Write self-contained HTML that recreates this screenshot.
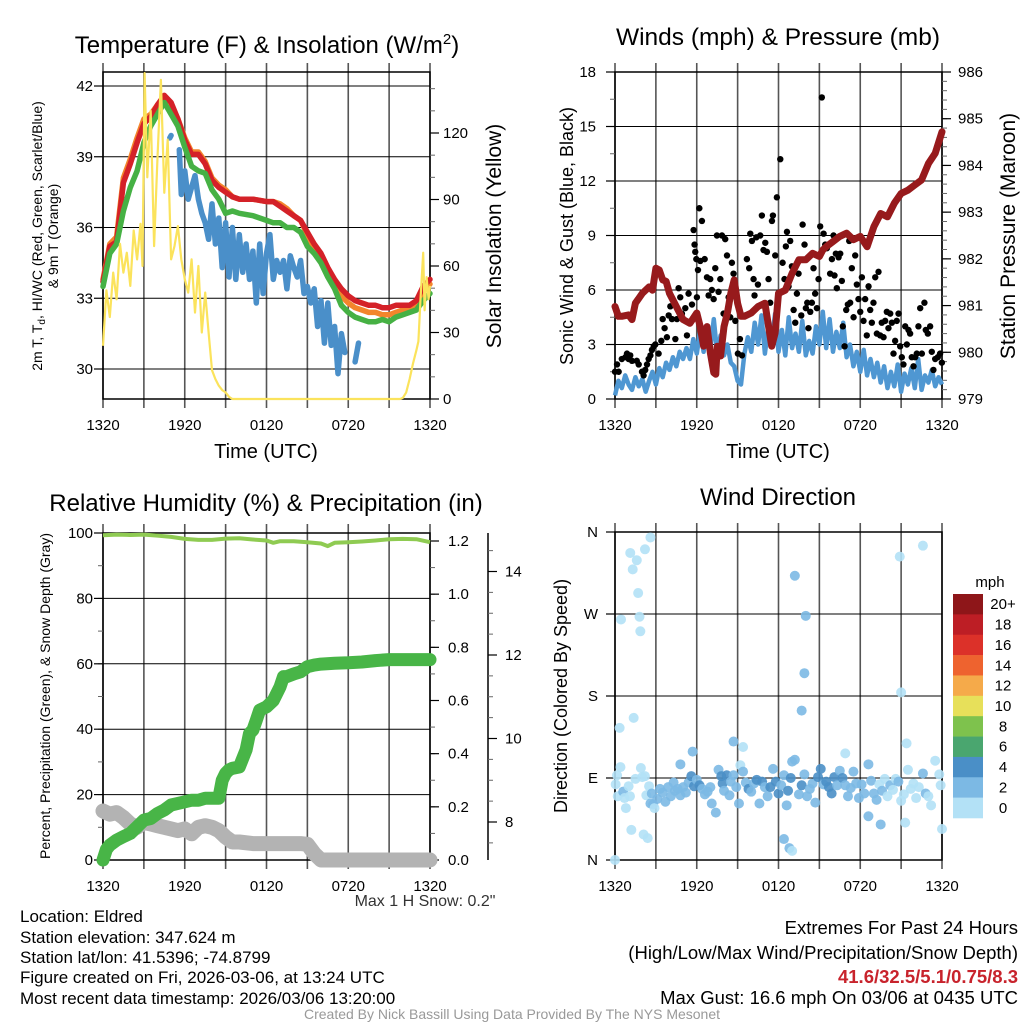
<!DOCTYPE html>
<html><head><meta charset="utf-8"><style>
html,body{margin:0;padding:0;background:#fff;}
svg{display:block;font-family:"Liberation Sans",Arial,sans-serif;}
</style></head><body>
<svg id="s" width="1024" height="1024" viewBox="0 0 1024 1024" xmlns="http://www.w3.org/2000/svg">
<rect width="1024" height="1024" fill="#fff"/>
<g id="g1"></g>
<g id="g2"></g>
<g id="g3"></g>
<g id="g4"></g>
<g id="txt">
<text x="267" y="53" font-size="24" text-anchor="middle">Temperature (F) &amp; Insolation (W/m<tspan dy="-9" font-size="15">2</tspan><tspan dy="9">)</tspan></text>
<text x="778" y="45" font-size="24.5" text-anchor="middle">Winds (mph) &amp; Pressure (mb)</text>
<text x="266" y="511" font-size="24" text-anchor="middle">Relative Humidity (%) &amp; Precipitation (in)</text>
<text x="778" y="505" font-size="24" text-anchor="middle">Wind Direction</text>
<text x="266" y="458" font-size="20" text-anchor="middle">Time (UTC)</text>
<text x="778" y="458" font-size="20" text-anchor="middle">Time (UTC)</text>
<text transform="translate(42,236) rotate(-90)" font-size="14" text-anchor="middle">2m T, T<tspan dy="3" font-size="10">d</tspan><tspan dy="-3">, HI/WC (Red, Green, Scarlet/Blue)</tspan></text>
<text transform="translate(58,236) rotate(-90)" font-size="14" text-anchor="middle">&amp; 9m T (Orange)</text>
<text transform="translate(501,236) rotate(-90)" font-size="21" text-anchor="middle">Solar Insolation (Yellow)</text>
<text transform="translate(573,236) rotate(-90)" font-size="18" text-anchor="middle">Sonic Wind &amp; Gust (Blue, Black)</text>
<text transform="translate(1015,236) rotate(-90)" font-size="21" text-anchor="middle">Station Pressure (Maroon)</text>
<text transform="translate(50,696) rotate(-90)" font-size="14" text-anchor="middle">Percent, Precipitation (Green), &amp; Snow Depth (Gray)</text>
<text transform="translate(567,696) rotate(-90)" font-size="18" text-anchor="middle">Direction (Colored By Speed)</text>
<text x="425" y="906" font-size="16" text-anchor="middle" fill="#333">Max 1 H Snow: 0.2"</text>
<g font-size="17" fill="#000">
<text x="20" y="922">Location: Eldred</text>
<text x="20" y="943">Station elevation: 347.624 m</text>
<text x="20" y="963">Station lat/lon: 41.5396; -74.8799</text>
<text x="20" y="983">Figure created on Fri, 2026-03-06, at 13:24 UTC</text>
<text x="20" y="1004">Most recent data timestamp: 2026/03/06 13:20:00</text>
</g>
<g font-size="18.5" fill="#000">
<text x="1018" y="934" text-anchor="end">Extremes For Past 24 Hours</text>
<text x="1018" y="959" text-anchor="end">(High/Low/Max Wind/Precipitation/Snow Depth)</text>
<text x="1018" y="983" text-anchor="end" fill="#c8232c" font-weight="bold">41.6/32.5/5.1/0.75/8.3</text>
<text x="1018" y="1004" text-anchor="end">Max Gust: 16.6 mph On 03/06 at 0435 UTC</text>
</g>
<text x="512" y="1019" font-size="14" fill="#999" text-anchor="middle">Created By Nick Bassill Using Data Provided By The NYS Mesonet</text>
</g>
</svg>
<script>
// ---------- data ----------
const timeLabels = ["1320","1920","0120","0720","1320"];
const tempHours = [0,0.5,1,1.5,2,2.5,3,3.5,4,4.5,5,5.5,6,6.5,7,7.5,8,8.5,9,9.5,10,11,12,12.5,13,13.5,14,14.5,15,15.5,16,16.5,17,17.5,18,18.5,19,19.5,20,20.5,21,21.5,22,22.5,23,23.5,24];
const redTemp = [33.7,35.2,35.4,37.9,38.7,39.6,40.4,40.7,41.2,41.6,41.3,40.6,39.7,39.1,39.1,38.7,38.0,37.7,37.5,37.3,37.2,37.2,37.1,37.1,36.9,36.7,36.5,36.3,35.8,35.3,34.9,34.3,33.8,33.4,33.1,32.9,32.8,32.7,32.7,32.6,32.6,32.7,32.7,32.7,32.9,33.5,33.8];
const orangeTemp = [33.8,35.3,35.6,38.1,38.9,39.8,40.6,40.8,41.2,41.5,41.2,40.6,39.8,39.2,39.2,38.8,38.1,37.8,37.6,37.3,37.2,37.2,37.1,37.1,37.0,36.8,36.5,36.3,35.7,35.1,34.7,34.1,33.6,33.1,32.8,32.6,32.5,32.4,32.4,32.3,32.3,32.4,32.5,32.5,32.7,33.3,33.6];
const greenTemp = [33.5,34.9,35.3,36.7,37.7,38.4,39.6,40.3,40.8,41.3,40.8,40.3,39.4,38.6,38.4,38.3,37.6,37.2,36.6,36.7,36.6,36.5,36.3,36.2,36.2,36.0,36.0,35.8,35.2,34.9,34.5,33.9,33.4,32.7,32.4,32.2,32.1,32.0,32.0,32.1,32.0,32.2,32.3,32.4,32.5,32.9,33.2];
const dewHours = [4.9,5.0,null,5.6,5.75,6,6.25,6.5,6.75,7,7.25,7.5,7.75,8,8.25,8.5,8.75,9,9.25,9.5,9.75,10,10.25,10.5,10.75,11,11.25,11.5,11.75,12,12.25,12.5,12.75,13,13.25,13.5,13.75,14,14.25,14.5,14.75,15,15.25,15.5,15.75,16,16.25,16.5,16.75,17,17.25,17.5,17.75,null,18.5,18.75];
const dewTemp = [39.8,39.9,null,39.3,37.4,38.4,37.2,37.7,38.2,37.2,36.6,36.2,35.5,37.0,35.3,36.4,34.3,36.2,33.9,36.0,33.8,35.7,34.1,35.3,33.8,35.0,32.8,35.3,33.2,34.9,35.7,33.8,34.6,34.1,34.6,33.4,34.8,34.3,33.9,34.6,33.2,33.5,32.8,33.4,31.8,32.9,31.1,32.8,31.0,31.8,29.8,31.5,30.7,null,30.3,31.1];
const solarHours = [0,0.25,0.5,0.75,1,1.25,1.5,1.75,2,2.25,2.5,2.75,2.9,3.05,3.25,3.5,3.75,4,4.25,4.5,4.75,5,5.25,5.5,5.75,6,6.25,6.5,6.75,7,7.25,7.5,7.75,8,8.25,8.5,8.75,9,9.25,9.5,21.8,22,22.25,22.5,22.75,23,23.15,23.3,23.5,23.6,23.75,23.9,24];
const solarValues = [24,49,37,57,45,70,57,66,51,76,63,79,60,147,100,130,69,109,144,93,117,63,69,78,63,54,48,63,39,60,30,48,30,13,9,6,4,3,1,0,0,0.5,3,9,16,22,26,45,66,40,55,45,51];
const windHours = Array.from({length:97},(_,i)=>i*0.25);
const windSpeed = [0.2,1.0,0.6,1.3,0.8,0.5,1.2,0.7,1.1,0.4,1.0, 1.5,0.8,1.7,1.2,2.0,1.6,2.3,1.8,2.6,2.2, 2.8,2.2,3.3,2.5,3.8,2.6,4.0,2.8,4.4,2.5,3.5,2.4, 3.0,2.0,1.8,1.0,0.8,2.5, 3.4,2.6,4.2,3.0,4.6,2.5,4.0,3.2,4.7,2.6, 3.8,2.4,4.5,2.8,3.6,2.6,4.3,2.4,3.2,2.5,4.0,3.0, 4.8,2.8,4.4,2.6,3.7,2.8,4.2,2.3, 3.0,1.8,2.6,1.5,2.7,1.3,2.2,1.2, 2.0,0.9,1.8,0.6,1.5,0.7,1.9,0.4,1.4,0.8,1.7,0.6,2.2,0.5,1.3,0.9,1.6,0.7,1.2,0.8];
const gustHours = [0.0,0.15,0.27,0.5,0.76,0.88,1.0,1.12,1.25,1.6,1.74,1.98,2.1,2.22,2.35,2.47,2.6,2.71,2.84,2.96,3.2,3.4,3.5,3.64,3.81,3.94,4.06,4.18,4.43,4.55,4.67,4.79,4.91,5.16,5.28,5.4,5.65,5.77,5.84,5.89,5.97,6.01,6.09,6.19,6.26,6.38,6.58,6.75,6.87,6.99,7.11,7.24,7.36,7.48,7.6,7.73,7.85,7.97,8.09,8.22,8.34,8.46,8.58,8.7,8.83,9.02,9.17,9.32,9.56,9.68,9.85,9.93,10.05,10.17,10.24,10.37,10.49,10.66,10.78,10.9,11.03,11.15,11.27,11.39,11.52,11.59,11.76,11.88,12.0,12.13,12.3,12.44,12.54,12.62,12.74,12.86,12.98,13.11,13.23,13.35,13.47,13.67,13.77,13.91,14.01,14.11,14.2,14.33,14.45,14.57,14.69,14.82,14.94,15.06,15.18,15.31,15.43,15.55,15.79,15.92,16.04,16.11,16.21,16.28,16.41,16.53,16.65,16.72,16.85,16.97,17.09,17.19,17.26,17.38,17.51,17.63,17.75,17.87,18.0,18.12,18.24,18.36,18.48,18.61,18.73,18.85,18.97,19.1,19.22,19.34,19.46,19.58,19.71,19.83,19.95,20.07,20.2,20.32,20.44,20.56,20.68,20.81,20.93,21.05,21.17,21.3,21.42,21.54,21.66,21.78,21.91,22.03,22.15,22.27,22.4,22.52,22.71,22.81,22.96,23.13,23.25,23.37,23.5,23.69,23.86,23.99];
const gustSpeed = [1.5,1.9,1.5,2.2,2.3,2.5,2.2,2.4,2.1,2.1,1.9,1.5,1.3,1.6,1.9,2.2,2.4,2.7,2.9,3.0,2.5,3.2,4.4,3.9,3.4,4.6,5.1,4.4,3.3,4.4,6.1,5.6,4.7,5.0,3.5,5.8,5.2,9.3,8.5,8.1,7.7,5.6,7.1,10.5,7.6,9.8,7.7,6.7,5.7,6.6,6.0,5.5,7.2,9.0,5.9,6.6,9.0,4.7,8.8,7.9,5.6,4.5,7.5,6.9,4.3,2.5,3.3,2.4,4.6,7.7,7.2,9.1,8.7,6.6,5.7,8.9,6.3,9.0,10.1,8.2,8.6,8.1,6.6,5.3,9.8,10.1,7.9,11.1,5.7,13.2,7.5,6.6,8.4,9.2,6.2,8.7,7.3,4.9,4.2,5.8,6.9,4.6,9.6,8.5,5.0,5.3,3.9,4.8,5.3,7.2,5.8,5.0,6.6,9.5,16.6,9.1,8.5,8.3,6.9,7.7,9.0,6.8,8.0,6.1,7.8,8.0,6.5,4.0,2.9,4.9,5.2,8.7,5.3,7.2,4.5,7.9,6.3,5.5,4.8,6.7,4.3,5.5,3.5,6.2,4.9,4.2,5.3,6.7,3.6,7.0,3.5,4.2,3.4,4.3,4.8,3.9,4.7,4.2,2.5,3.2,4.3,4.7,2.9,2.3,1.9,4.0,3.0,3.8,3.6,2.3,1.8,2.3,2.5,4.0,5.0,2.5,5.3,3.8,3.6,4.0,2.6,1.6,2.2,2.3,2.5,2.0];
const presHours = [0,0.25,0.5,1,1.25,1.5,2,2.5,2.75,3,3.25,3.5,3.75,4,4.5,5,5.5,6,6.25,6.5,6.75,7,7.25,7.4,7.5,7.75,8,8.25,8.5,8.75,9,9.25,9.5,10,10.5,11,11.5,11.75,12,12.5,13,13.5,14,14.5,15,15.25,15.5,16,16.5,17,17.5,18,18.5,19,19.5,20,20.5,21,21.5,22,22.5,23,23.5,24];
const presValues = [980.98,980.77,980.77,980.8,980.7,981.05,981.26,981.4,981.33,981.8,981.76,981.55,981.52,981.26,980.98,980.7,980.62,980.84,980.55,980.13,980.55,979.98,979.56,979.53,980.13,979.92,980.55,980.84,981.26,981.55,981.05,980.77,980.77,980.84,980.98,981.05,980.13,980.41,981.26,981.33,981.69,981.98,981.98,982.12,982.05,982.19,982.26,982.37,982.48,982.55,982.41,982.48,982.26,982.69,982.97,982.9,983.19,983.4,983.47,983.58,983.69,984.04,984.26,984.72];
const rhHours = [0,1,2,3,4,5,6,7,8,9,10,11,12,12.5,13,14,15,16,16.5,17,18,19,20,21,22,23,24];
const rhValues = [99.3,99.5,99.4,99.5,99.2,98.8,98.2,97.9,97.9,98.3,98.4,98.0,97.7,97.0,97.5,97.5,97.2,96.8,96.0,97.0,97.2,97.4,97.7,98.1,98.2,98.1,97.2];
const precipHours = [0,0.25,0.5,1,1.5,2,2.5,3,3.5,4,4.5,5,5.5,6,6.5,7,7.5,8,8.5,8.75,9,9.25,9.5,10,10.5,10.75,11,11.25,11.5,12,12.5,13,13.25,13.5,14,14.5,15,15.5,16,17,18,19,20,21,22,24];
const precipValues = [0,0.04,0.056,0.075,0.088,0.1,0.125,0.15,0.156,0.175,0.188,0.207,0.213,0.219,0.225,0.225,0.232,0.232,0.232,0.3,0.326,0.339,0.345,0.35,0.414,0.476,0.489,0.526,0.564,0.576,0.6,0.652,0.69,0.69,0.7,0.708,0.727,0.733,0.737,0.74,0.742,0.745,0.75,0.754,0.754,0.754];
const snowHours = [0,0.5,1,1.5,2,2.5,3,3.5,4,4.5,5,5.5,6,6.5,7,7.5,8,8.5,9,9.5,10,11,12,13,14,14.5,15,15.5,16,17,20,24];
const snowValues = [15,14,14.5,13,11,10,11.5,11,10.5,10,9.5,9,9.5,8,10,10.5,10,9,7,5.5,5.5,5,5,5,5,5,4.8,2,0,0,0,0];
const speedBinLabels = ["20+","18","16","14","12","10","8","6","4","2","0"];
const speedBinColors = ["#8e1619","#bd1e25","#dc3129","#ee632f","#f5aa4a","#e7e05a","#7ec24d","#4aa66f","#4a8fc7","#7cb9e4","#b3e1f6"];
const dirHours = [0.05,0.15,0.2,0.4,0.6,0.7,0.8,1.0,1.1,1.5,1.9,2.0,2.2,2.3,2.5,2.6,2.7,2.8,2.9,3.1,3.3,3.5,3.7,3.9,4.1,4.3,4.4,4.6,4.8,5.0,5.2,5.4,5.6,5.8,6.0,6.2,6.4,6.6,6.8,7.0,7.1,7.4,7.6,7.8,7.9,8.0,8.2,8.4,8.5,8.7,8.9,9.1,9.2,9.4,9.6,9.8,10.0,10.2,10.4,10.6,10.8,11.0,11.2,11.4,11.6,11.8,12.0,12.2,12.4,12.6,12.7,12.9,13.0,13.2,13.5,13.7,13.9,14.1,14.3,14.5,14.7,14.9,15.1,15.3,15.5,15.7,15.9,16.1,16.3,16.5,16.7,16.9,17.1,17.3,17.5,17.7,17.9,18.1,18.3,18.6,18.8,19.0,19.2,19.4,19.6,19.8,20.0,20.2,20.4,20.6,20.8,21.0,21.2,21.5,21.7,21.9,22.1,22.3,22.6,22.8,23.0,23.2,23.5,23.8,23.9,
 1.12,1.3,1.6,2.2,2.6,1.7,1.8,0.44,1.86,1.37,0.34,13.2,14.0,13.9,13.7,20.9,22.6,21.0,21.4,16.9,12.4,12.8,13.0,1.2,2.1,2.4,24.0,21.3,19.5,18.6,0.0,8.7,9.4,5.7,4.8];
const dirDegrees = [83,93,70,102,75,68,57,81,70,89,101,91,92,71,81,62,73,61,57,67,78,74,64,80,70,85,76,78,71,80,74,85,92,81,88,82,78,72,75,80,62,52,99,92,84,76,93,71,86,93,80,62,104,97,85,78,75,84,88,62,86,80,70,80,100,86,73,82,93,60,76,90,108,110,72,82,94,70,78,84,63,91,100,83,86,80,73,91,82,98,90,82,70,79,97,84,68,83,73,105,87,73,66,83,76,89,70,82,77,89,86,65,72,99,78,84,68,80,95,73,70,60,109,94,82,
 337,319,329,341,354,293,267,264,251,156,145,312,268,205,164,333,345,184,128,117,23,13,10,33,28,24,34,41,39,48,0,130,124,119,105];
const dirSpeed = [1,1,1,1,3,1,1,1,1,1,1,1,1,1,1,3,3,3,1,3,3,3,3,3,3,3,3,3,3,3,3,3,5,5,3,5,3,3,3,3,3,3,3,5,5,3,5,3,3,3,3,3,1,3,3,5,3,3,5,3,5,3,3,5,3,5,5,3,3,3,5,5,3,3,3,5,3,3,3,3,3,5,5,3,5,5,5,5,3,3,5,3,3,3,3,3,3,3,3,3,3,3,3,1,3,1,1,3,1,1,3,1,1,1,1,1,1,1,3,3,1,1,1,1,1,
 1,1,1,1,1,1,1,1,1,1,1,3,3,3,3,1,1,1,1,1,3,3,1,1,1,1,1,1,3,3,1,3,1,3,3];

// ---------- helpers ----------
const NS="http://www.w3.org/2000/svg";
function mk(parent,tag,attrs){const e=document.createElementNS(NS,tag);for(const k in attrs)e.setAttribute(k,attrs[k]);parent.appendChild(e);return e;}
function linear(d0,d1,r0,r1){return v=>r0+(v-d0)*(r1-r0)/(d1-d0);}
function pathFrom(xsArr,ysArr,fx,fy){let d="",pen=false;for(let i=0;i<xsArr.length;i++){if(xsArr[i]===null||ysArr[i]===null){pen=false;continue;}d+=(pen?"L":"M")+fx(xsArr[i]).toFixed(1)+","+fy(ysArr[i]).toFixed(1);pen=true;}return d;}

function frame(g,X0,X1,T,B){
  const hx=linear(0,24,X0,X1);
  for(let h=0;h<=24;h+=3){
    const l=mk(g,"line",{x1:hx(h),x2:hx(h),y1:T-9,y2:B+9,stroke:"#555","stroke-width":1.6});
    
    
  }
  for(let i=0;i<timeLabels.length;i++){
    const t=mk(g,"text",{x:hx(i*6),y:B+31,"font-size":15,"text-anchor":"middle"});
    t.textContent=timeLabels[i];
    
    
  }
  mk(g,"rect",{x:X0,y:T,width:X1-X0,height:B-T,fill:"none",stroke:"#000","stroke-width":1.5});
  return hx;
}
function yAxis(g,side,X,fy,majors,minors,labels,labelX,anchor,hgrid,X0,X1){
  const dir=side==="left"?-1:1;
  minors.forEach(v=>{mk(g,"line",{x1:X,x2:X+dir*5,y1:fy(v),y2:fy(v),stroke:"#666","stroke-width":1});});
  majors.forEach((v,i)=>{
    mk(g,"line",{x1:X,x2:X+dir*9,y1:fy(v),y2:fy(v),stroke:"#000","stroke-width":1.2});
    if(hgrid){const gl=mk(g,"line",{x1:X0,x2:X1,y1:fy(v),y2:fy(v),stroke:"#000","stroke-width":1});
      
      }
    const t=mk(g,"text",{x:labelX,y:fy(v)+5,"font-size":15,"text-anchor":anchor});
    t.textContent=labels[i];
    
    
  });
}
function range(a,b,s){const r=[];for(let v=a;v<=b+1e-9;v+=s)r.push(+v.toFixed(4));return r;}

// ---------- panel 1 ----------
(function(){
  const g=document.getElementById("g1");
  const X0=103,X1=430,T=72,B=399;
  const fy=linear(42,30,86,369);
  const fs=linear(0,120,399,133);
  const hx=frame(g,X0,X1,T,B);
  yAxis(g,"left",X0,fy,[42,39,36,33,30],[],["42","39","36","33","30"],93,"end",true,X0,X1);
  yAxis(g,"right",X1,fs,[0,30,60,90,120],range(0,140,10),["0","30","60","90","120"],443,"start",false);
  const series=[[orangeTemp,"#f3852c","orange-9m-temp"],[redTemp,"#d42128","red-2m-temp"],[greenTemp,"#46b144","green-heat-index"]];
  series.forEach(s=>{const p=mk(g,"path",{d:pathFrom(tempHours,s[0],hx,fy),fill:"none",stroke:s[1],"stroke-width":5.5,"stroke-linejoin":"round","stroke-linecap":"round"});
    });
  const pd=mk(g,"path",{d:pathFrom(dewHours,dewTemp,hx,fy),fill:"none",stroke:"#4a8fc9","stroke-width":5.5,"stroke-linejoin":"round","stroke-linecap":"round"});
  
  const ps=mk(g,"path",{d:pathFrom(solarHours,solarValues,hx,v=>Math.max(T,fs(v))),fill:"none",stroke:"#fbe35c","stroke-width":2.2,"stroke-linejoin":"round"});
  
})();

// ---------- panel 2 ----------
(function(){
  const g=document.getElementById("g2");
  const X0=615,X1=942,T=72,B=399;
  const fw=linear(0,18,399,72);
  const fp=linear(979,986,399,72);
  const hx=frame(g,X0,X1,T,B);
  yAxis(g,"left",X0,fw,[0,3,6,9,12,15,18],range(0,18,1.5),["0","3","6","9","12","15","18"],596,"end",true,X0,X1);
  yAxis(g,"right",X1,fp,[979,980,981,982,983,984,985,986],range(979,986,0.2),["979","980","981","982","983","984","985","986"],958,"start",false);
  const pw=mk(g,"path",{d:pathFrom(windHours,windSpeed,hx,fw),fill:"none",stroke:"#4f97d2","stroke-width":4.5,"stroke-linejoin":"round"});
  
  for(let i=0;i<gustHours.length;i++){
    const c=mk(g,"circle",{cx:hx(gustHours[i]),cy:fw(gustSpeed[i]),r:3.2,fill:"#000"});
    
    
  }
  const pp=mk(g,"path",{d:pathFrom(presHours,presValues,hx,fp),fill:"none",stroke:"#971a1c","stroke-width":7,"stroke-linejoin":"round","stroke-linecap":"round"});
  
})();

// ---------- panel 3 ----------
(function(){
  const g=document.getElementById("g3");
  const X0=103,X1=430,T=533,B=860;
  const fv=linear(0,100,860,533);
  const fi=linear(0,1.2,860,541);
  const fsn=linear(8,10,822,738.5);
  const hx=frame(g,X0,X1,T,B);
  yAxis(g,"left",X0,fv,[0,20,40,60,80,100],range(0,100,10),["0","20","40","60","80","100"],93,"end",true,X0,X1);
  yAxis(g,"right",X1,fi,[0,0.2,0.4,0.6,0.8,1.0,1.2],range(0,1.2,0.1),["0.0","0.2","0.4","0.6","0.8","1.0","1.2"],448,"start",false);
  const ax=mk(g,"line",{x1:488,x2:488,y1:533,y2:860,stroke:"#000","stroke-width":1.5});
  
  yAxis(g,"right",488,fsn,[8,10,12,14],range(7.5,14.5,0.5),["8","10","12","14"],505,"start",false);
  const pg=mk(g,"path",{d:pathFrom(snowHours,snowValues,hx,fv),fill:"none",stroke:"#b3b3b3","stroke-width":15,"stroke-linejoin":"round","stroke-linecap":"round"});
  
  const pr=mk(g,"path",{d:pathFrom(precipHours,precipValues,hx,fi),fill:"none",stroke:"#48b547","stroke-width":13,"stroke-linejoin":"round","stroke-linecap":"round"});
  
  const ph=mk(g,"path",{d:pathFrom(rhHours,rhValues,hx,fv),fill:"none",stroke:"#8fcb52","stroke-width":4,"stroke-linejoin":"round"});
  
})();

// ---------- panel 4 ----------
(function(){
  const g=document.getElementById("g4");
  const X0=615,X1=942,T=532,B=860;
  const fd=linear(0,360,860,532);
  const hx=frame(g,X0,X1,T,B);
  yAxis(g,"left",X0,fd,[0,90,180,270,360],[],["N","E","S","W","N"],598,"end",true,X0,X1);
  for(let i=0;i<dirHours.length;i++){
    const bin=Math.min(10,Math.floor(dirSpeed[i]/2));
    const c=mk(g,"circle",{cx:hx(dirHours[i]),cy:fd(dirDegrees[i]),r:5,fill:speedBinColors[10-bin],"fill-opacity":0.9});
    
    
  }
  const u=mk(g,"text",{x:990,y:587,"font-size":15,"text-anchor":"middle"});u.textContent="mph";
  
  const bh=224/11;
  for(let i=0;i<11;i++){
    const r=mk(g,"rect",{x:953,y:594+i*bh,width:30,height:bh+0.3,fill:speedBinColors[i]});
    
    const t=mk(g,"text",{x:1003,y:594+i*bh+bh/2+5,"font-size":15,"text-anchor":"middle"});
    t.textContent=speedBinLabels[i];
    
  }
})();
</script>
</body></html>
